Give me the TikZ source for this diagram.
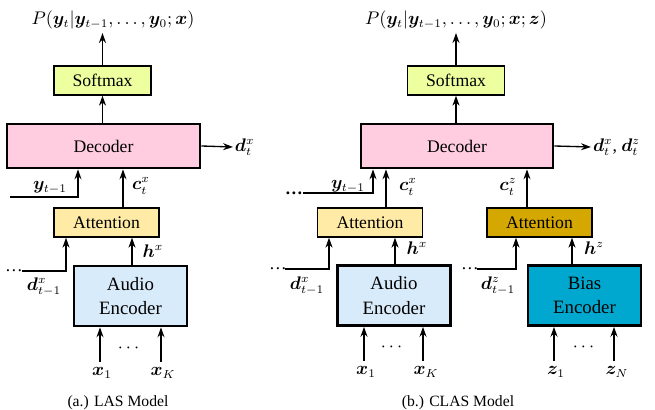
\documentclass[tikz,border=0pt]{standalone}
\usepackage{amsmath}
\usepackage[no-math]{fontspec}
\setmainfont{Liberation Serif}
\usepackage{bm}
\usetikzlibrary{arrows.meta}
\definecolor{softc}{HTML}{EEFFA0}
\definecolor{decc}{HTML}{FFCCE0}
\definecolor{attc}{HTML}{FFEBA5}
\definecolor{attz}{HTML}{D4A800}
\definecolor{audc}{HTML}{D8EBFA}
\definecolor{biasc}{HTML}{00A8D0}
\begin{document}
\begin{tikzpicture}[x=0.6pt,y=-0.6pt,
  font=\fontsize{10.6}{14.5}\selectfont,
  thinbox/.style={draw, line width=0.8pt, inner sep=0pt, align=center},
  thickbox/.style={draw, line width=1.6pt, inner sep=0pt, align=center},
  encbox/.style={thickbox, font=\fontsize{11.3}{14.5}\selectfont},
  arr/.style={line width=0.8pt, -{Stealth[length=6pt,width=4.2pt]}},
  lbl/.style={inner sep=1pt},
  captext/.style={font=\fontsize{9.4}{11}\selectfont}]
\useasboundingbox (0,0) rectangle (655,410);

% ---------------- LAS ----------------
\node[thinbox, fill=softc, minimum width=58.2pt, minimum height=17.4pt] (softL) at (102.5,80.5) {Softmax};
\node[thickbox, fill=decc, minimum width=115.8pt, minimum height=26.4pt] (decL) at (103.5,146) {Decoder};
\node[thinbox, fill=attc, minimum width=63pt, minimum height=17.4pt] (attL) at (106.5,222.5) {Attention};
\node[encbox, fill=audc, minimum width=67.8pt, minimum height=36pt] (encL) at (130.5,296) {Audio\\Encoder};

\node[lbl] (titleL) at (113,20) {$P(\bm{y}_t|\bm{y}_{t-1},\dots,\bm{y}_0;\bm{x})$};
\coordinate (tL) at (102.5,33);
\draw[arr] (softL.north) -- (tL);
\draw[arr] (decL.north -| softL.south) -- (softL.south);

\node[lbl, anchor=west] (dtL) at (233,147) {$\bm{d}_t^x$};
\draw[arr] (decL.east) -- (dtL.west);

\coordinate (yLs) at (10,197);
\coordinate (yLc) at (78,197);
\draw[arr] (yLs) -- (yLc) -- (yLc |- decL.south);
\node[lbl] (yLlab) at (50,188) {$\bm{y}_{t-1}$};

\coordinate (cLx) at (123,0);
\draw[arr] (attL.north -| cLx) -- (decL.south -| cLx);
\node[lbl] (cLlab) at (141,186) {$\bm{c}_t^x$};

\node[lbl, anchor=base] (dotsdL) at (14,272) {\dots};
\coordinate (dLs) at (22,271);
\coordinate (dLc) at (66,271);
\draw[arr] (dLs) -- (dLc) -- (dLc |- attL.south);
\node[lbl] (dLlab) at (44,287) {$\bm{d}_{t-1}^x$};

\coordinate (hLx) at (132,0);
\draw[arr] (encL.north -| hLx) -- (attL.south -| hLx);
\node[lbl] (hLlab) at (153,251) {$\bm{h}^x$};

\coordinate (ax1L) at (100,362);
\coordinate (axKL) at (161,362);
\draw[arr] (ax1L) -- (ax1L |- encL.south);
\draw[arr] (axKL) -- (axKL |- encL.south);
\node[lbl] (x1L) at (102,373) {$\bm{x}_1$};
\node[lbl] (xKL) at (163,373) {$\bm{x}_K$};
\node[lbl] (dxL) at (130,348) {$\cdots$};

\node[captext] (capL) at (118,403) {(a.) LAS Model};

% ---------------- CLAS ----------------
\node[thinbox, fill=softc, minimum width=58.2pt, minimum height=17.4pt] (softR) at (456,80.5) {Softmax};
\node[thickbox, fill=decc, minimum width=115.2pt, minimum height=26.4pt] (decR) at (457,146) {Decoder};
\node[thinbox, fill=attc, minimum width=63pt, minimum height=17.4pt] (attRx) at (370,222.5) {Attention};
\node[thinbox, fill=attz, minimum width=63pt, minimum height=17.4pt] (attRz) at (539.5,222.5) {Attention};
\node[encbox, fill=audc, minimum width=67.8pt, minimum height=36pt] (encRx) at (394,295.5) {Audio\\Encoder};
\node[encbox, fill=biasc, minimum width=67.8pt, minimum height=36pt] (encRz) at (584.5,295.5) {Bias\\Encoder};

\node[lbl] (titleR) at (456,20) {$P(\bm{y}_t|\bm{y}_{t-1},\dots,\bm{y}_0;\bm{x};\bm{z})$};
\coordinate (tR) at (456,33);
\draw[arr] (softR.north) -- (tR);
\draw[arr] (decR.north -| softR.south) -- (softR.south);

\node[lbl, anchor=west] (dtR) at (591,147) {$\bm{d}_t^x$, $\bm{d}_t^z$};
\draw[arr] (decR.east) -- (dtR.west);

\node[lbl, anchor=base] (dotsyR) at (294,195) {\textbf{\dots}};
\coordinate (yRs) at (303,193);
\coordinate (yRc) at (373,193);
\draw[arr] (yRs) -- (yRc) -- (yRc |- decR.south);
\node[lbl] (yRlab) at (348,187) {$\bm{y}_{t-1}$};

\coordinate (cRx) at (386,0);
\draw[arr] (attRx.north -| cRx) -- (decR.south -| cRx);
\node[lbl] (cRxlab) at (408,187) {$\bm{c}_t^x$};

\coordinate (cRz) at (527,0);
\draw[arr] (attRz.north -| cRz) -- (decR.south -| cRz);
\node[lbl] (cRzlab) at (508,187) {$\bm{c}_t^z$};

\node[lbl, anchor=base] (dotsdRx) at (278,270) {\dots};
\coordinate (dRxs) at (285,269);
\coordinate (dRxc) at (329,269);
\draw[arr] (dRxs) -- (dRxc) -- (dRxc |- attRx.south);
\node[lbl] (dRxlab) at (307,286) {$\bm{d}_{t-1}^x$};

\node[lbl, anchor=base] (dotsdRz) at (470,270) {\dots};
\coordinate (dRzs) at (477,269);
\coordinate (dRzc) at (516,269);
\draw[arr] (dRzs) -- (dRzc) -- (dRzc |- attRz.south);
\node[lbl] (dRzlab) at (498,286) {$\bm{d}_{t-1}^z$};

\coordinate (hRx) at (395,0);
\draw[arr] (encRx.north -| hRx) -- (attRx.south -| hRx);
\node[lbl] (hRxlab) at (417,248) {$\bm{h}^x$};

\coordinate (hRz) at (572,0);
\draw[arr] (encRz.north -| hRz) -- (attRz.south -| hRz);
\node[lbl] (hRzlab) at (594,248) {$\bm{h}^z$};

\coordinate (ax1R) at (364,361);
\coordinate (axKR) at (423,361);
\draw[arr] (ax1R) -- (ax1R |- encRx.south);
\draw[arr] (axKR) -- (axKR |- encRx.south);
\node[lbl] (x1R) at (366,372) {$\bm{x}_1$};
\node[lbl] (xKR) at (426,372) {$\bm{x}_K$};
\node[lbl] (dxR) at (393,347) {$\cdots$};

\coordinate (az1R) at (554,361);
\coordinate (azNR) at (614,361);
\draw[arr] (az1R) -- (az1R |- encRz.south);
\draw[arr] (azNR) -- (azNR |- encRz.south);
\node[lbl] (z1R) at (556,372) {$\bm{z}_1$};
\node[lbl] (zNR) at (617,372) {$\bm{z}_N$};
\node[lbl] (dzR) at (585,347) {$\cdots$};

\node[captext] (capR) at (458,403) {(b.) CLAS Model};
\end{tikzpicture}
\end{document}
